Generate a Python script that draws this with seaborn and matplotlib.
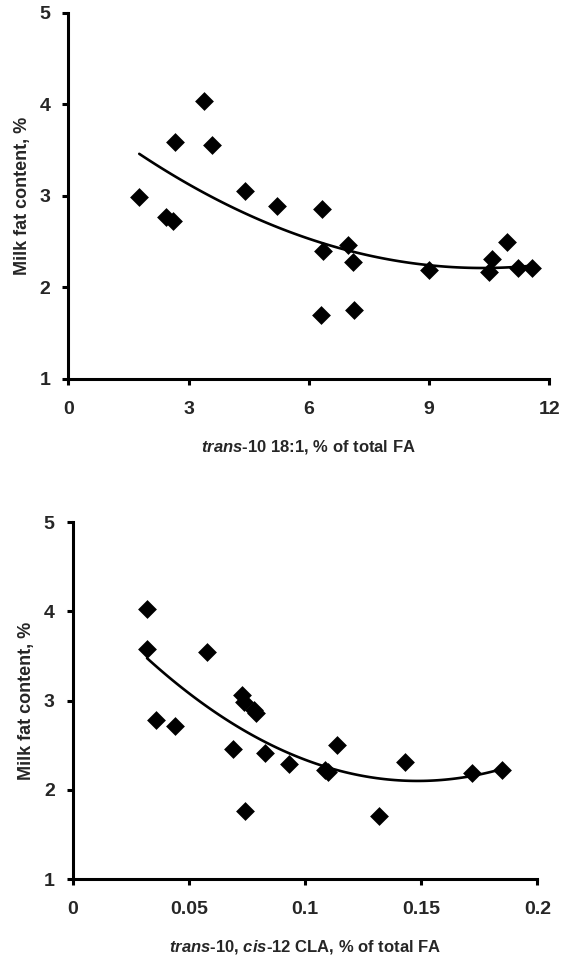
import numpy as np
import pandas as pd
import matplotlib
matplotlib.use("Agg")
import matplotlib.pyplot as plt
import seaborn as sns

# ---- data ----
t10_181 = [1.77, 2.44, 2.60, 2.66, 3.38, 3.58, 4.41, 5.20, 6.33, 6.36,
           6.31, 6.98, 7.11, 7.13, 9.00, 10.49, 10.57, 10.95, 11.22, 11.56]
fat_top = [2.99, 2.77, 2.72, 3.59, 4.04, 3.55, 3.05, 2.89, 2.86, 2.40,
           1.70, 2.46, 2.28, 1.75, 2.19, 2.17, 2.31, 2.50, 2.21, 2.21]

cla = [0.032, 0.032, 0.0358, 0.0439, 0.0578, 0.0728, 0.0738, 0.0780, 0.0790, 0.0688,
       0.0827, 0.0929, 0.0741, 0.1086, 0.1100, 0.1139, 0.1318, 0.1430, 0.1720, 0.1850]
fat_bot = [4.03, 3.58, 2.78, 2.72, 3.55, 3.06, 2.99, 2.89, 2.86, 2.46,
           2.41, 2.29, 1.76, 2.22, 2.20, 2.50, 1.71, 2.31, 2.19, 2.22]

xticks_top = [0, 3, 6, 9, 12]
xticks_bot = [0, 0.05, 0.1, 0.15, 0.2]
xticklabels_bot = ["0", "0.05", "0.1", "0.15", "0.2"]
yticks = [1, 2, 3, 4, 5]

ylabel = "Milk fat content, %"
xlabel_top = r"$\mathbfit{trans}$-10 18:1, % of total FA"
xlabel_bot = r"$\mathbfit{trans}$-10, $\mathbfit{cis}$-12 CLA, % of total FA"

sns.set_theme(style="white")
plt.rcParams["font.family"] = ["Liberation Sans", "DejaVu Sans"]
plt.rcParams["font.weight"] = "bold"
plt.rcParams["mathtext.fontset"] = "custom"
plt.rcParams["mathtext.rm"] = "Liberation Sans:bold"
plt.rcParams["mathtext.bfit"] = "Liberation Sans:italic:bold"
plt.rcParams["mathtext.it"] = "Liberation Sans:italic:bold"

fig = plt.figure(figsize=(5.61, 9.64), dpi=100)
W, H = 561, 964

def add_ax(x0, x1, ytop, ybot):
    return fig.add_axes([x0 / W, 1 - ybot / H, (x1 - x0) / W, (ybot - ytop) / H])

ax1 = add_ax(68.3, 549.3, 12.6, 379.0)
ax2 = add_ax(72.7, 537.3, 522.3, 879.0)

df1 = pd.DataFrame({"x": t10_181, "y": fat_top})
df2 = pd.DataFrame({"x": cla, "y": fat_bot})

for ax, df, xt, xtl, xl, xmax in [
    (ax1, df1, xticks_top, [str(v) for v in xticks_top], xlabel_top, 12),
    (ax2, df2, xticks_bot, xticklabels_bot, xlabel_bot, 0.2),
]:
    sns.regplot(data=df, x="x", y="y", order=2, ci=None, scatter=False, ax=ax,
                line_kws={"color": "black", "lw": 1.9})
    sns.scatterplot(data=df, x="x", y="y", marker="D", s=92, color="black",
                    edgecolor="black", linewidth=0, ax=ax, zorder=3)
    ax.set_xlim(0, xmax)
    ax.set_ylim(1, 5)
    ax.set_xticks(xt)
    ax.set_xticklabels(xtl)
    ax.set_yticks(yticks)
    for s in ["top", "right"]:
        ax.spines[s].set_visible(False)
    for s in ["left", "bottom"]:
        ax.spines[s].set_linewidth(2.2)
        ax.spines[s].set_color("black")
    ax.tick_params(axis="both", direction="out", length=4, width=2.2,
                   color="black", labelsize=14, bottom=True, left=True)
    ax.tick_params(axis="x", pad=12)
    ax.tick_params(axis="y", pad=9)
    for lab in ax.get_xticklabels() + ax.get_yticklabels():
        lab.set_fontweight("bold")
    ax.set_xlabel(xl, fontsize=12, fontweight="bold", labelpad=14)
    ax.set_ylabel(ylabel, fontsize=13, fontweight="bold", labelpad=6)
    ax.set_facecolor("white")

fig.patch.set_facecolor("white")
fig.savefig("out.png", dpi=100, facecolor="white")
